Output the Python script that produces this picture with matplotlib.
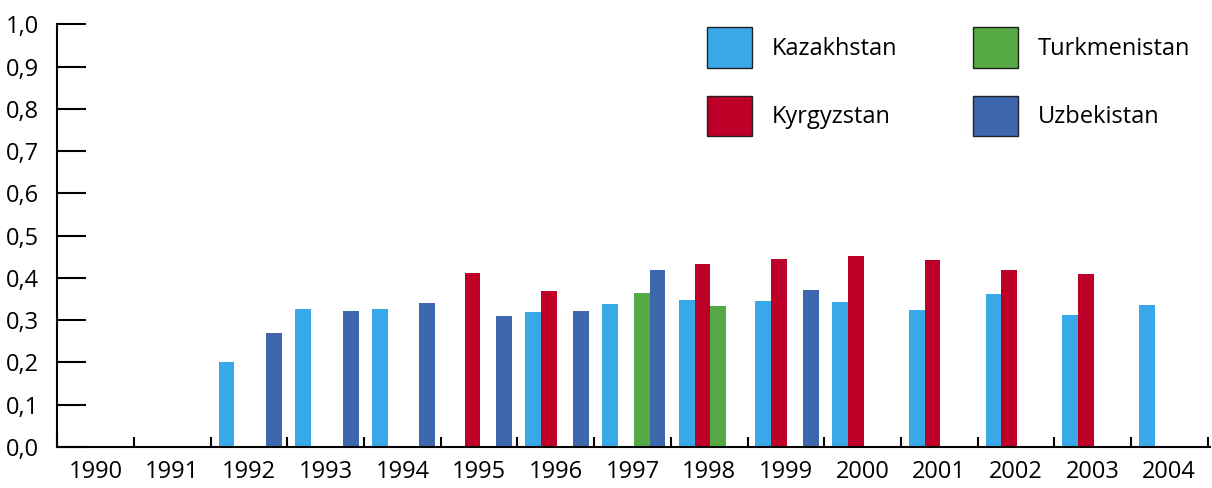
import numpy as np
import matplotlib.pyplot as plt
from matplotlib.patches import Patch
from matplotlib.ticker import FuncFormatter

plt.rcParams['font.family'] = ['Open Sans', 'DejaVu Sans']

years = [str(y) for y in range(1990, 2005)]
countries = ['Kazakhstan', 'Kyrgyzstan', 'Turkmenistan', 'Uzbekistan']
colors = ['#38a8e8', '#be0028', '#55aa45', '#3d68ae']

# NaN = no data for that year
kazakhstan = [np.nan, np.nan, 0.201, 0.327, 0.327, np.nan, 0.319, 0.338, 0.347, 0.345,
              0.344, 0.325, 0.363, 0.313, 0.337]
kyrgyzstan = [np.nan, np.nan, np.nan, np.nan, np.nan, 0.411, 0.370, np.nan, 0.433, 0.445,
              0.451, 0.443, 0.420, 0.409, np.nan]
turkmenistan = [np.nan, np.nan, np.nan, np.nan, np.nan, np.nan, np.nan, 0.365, 0.333, np.nan,
                np.nan, np.nan, np.nan, np.nan, np.nan]
uzbekistan = [np.nan, np.nan, 0.269, 0.321, 0.340, 0.310, 0.321, 0.420, np.nan, 0.372,
              np.nan, np.nan, np.nan, np.nan, np.nan]
series = [kazakhstan, kyrgyzstan, turkmenistan, uzbekistan]

fig = plt.figure(figsize=(12.12, 4.88), dpi=100)
ax = fig.add_axes([0.0473, 0.084, 0.951, 0.866])

x = np.arange(len(years))
w = 0.206
for k, (vals, c) in enumerate(zip(series, colors)):
    ax.bar(x + (k - 1.5) * w + 0.016, vals, width=w, color=c, linewidth=0)

ax.set_xlim(-0.5, 14.53)
ax.set_ylim(0, 1.0)
ax.set_yticks(np.arange(0, 1.01, 0.1))
ax.yaxis.set_major_formatter(FuncFormatter(lambda v, p: f"{v:.1f}".replace('.', ',')))
ax.set_xticks(x)
ax.set_xticklabels(years)
ax.set_xticks(np.arange(-0.5, 15, 1), minor=True)

for s in ['top', 'right']:
    ax.spines[s].set_visible(False)
for s in ['left', 'bottom']:
    ax.spines[s].set_linewidth(1.5)

ax.tick_params(axis='y', direction='in', length=21, width=1.5, pad=13, labelsize=17)
ax.tick_params(axis='x', which='major', length=0, pad=9, labelsize=17)
ax.tick_params(axis='x', which='minor', direction='in', length=7.2, width=1.5)

handles = [Patch(facecolor=c, edgecolor='#222222', linewidth=1) for c in colors]
fig.legend(handles, countries, ncol=2, loc='upper left',
           bbox_to_anchor=(707 / 1212, 1 - 27 / 488), frameon=False,
           fontsize=17, handlelength=1.9, handleheight=2.27, handletextpad=0.85,
           labelspacing=1.19, columnspacing=3.2, borderpad=0, borderaxespad=0)

fig.savefig('out.png', dpi=100)
